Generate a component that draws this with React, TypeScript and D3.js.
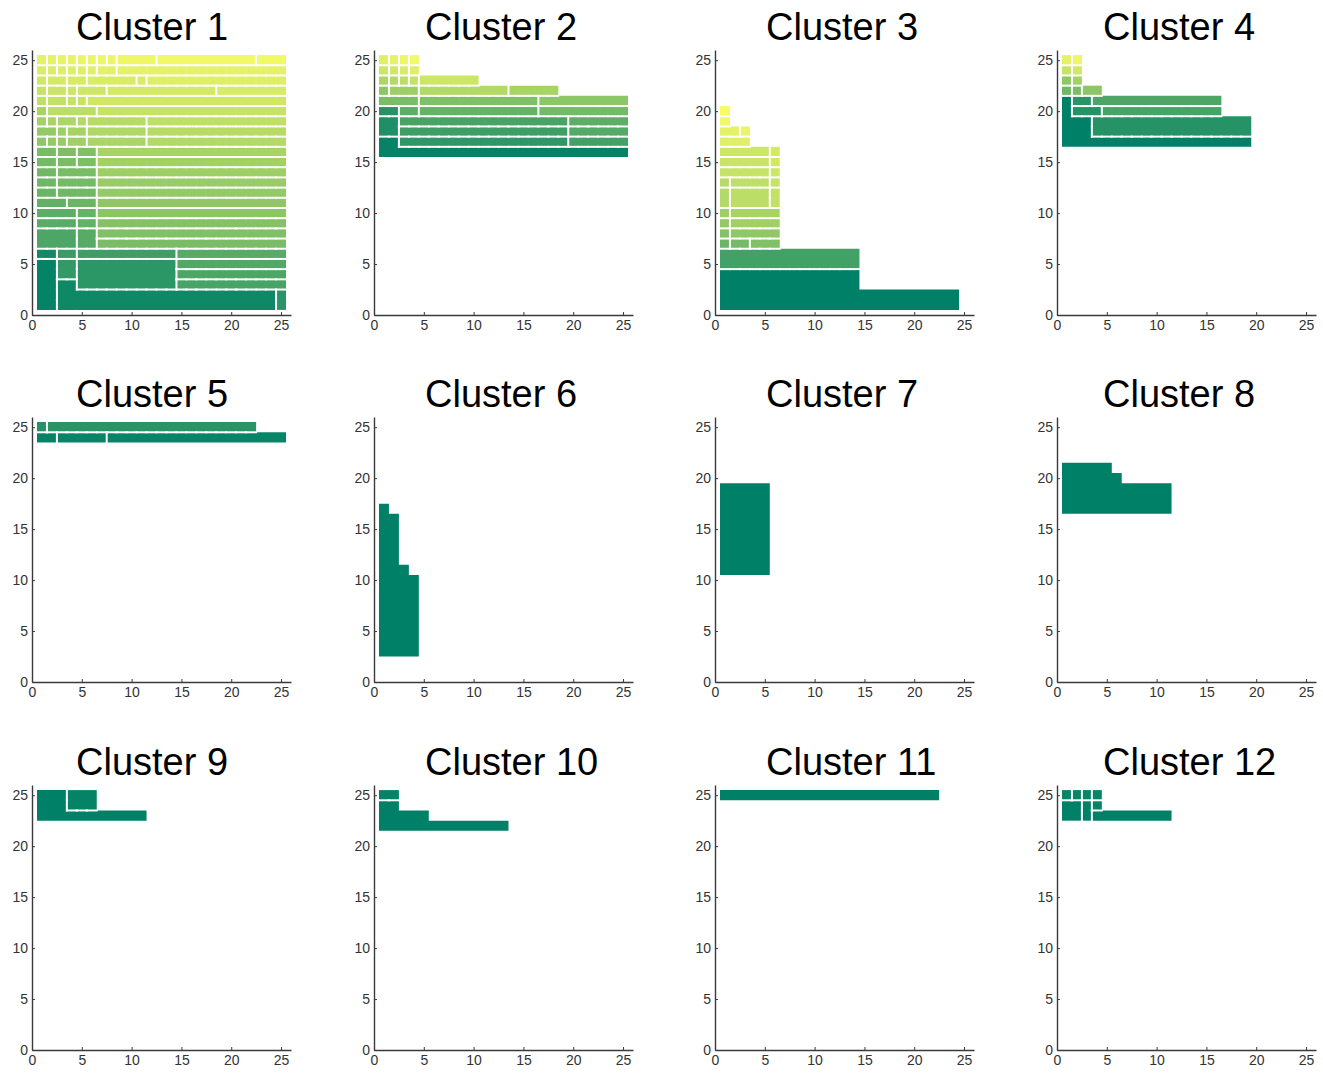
import React, { useEffect, useRef } from "react";
import * as d3 from "d3";

type Rect = [number, number, number, number]; // x0, x1, y0, y1 (inclusive cell indices)
type Region = { v: number; rects: Rect[] };
const reg = (v: number, ...rects: Rect[]): Region => ({ v, rects });

const titles = [
  "Cluster 1", "Cluster 2", "Cluster 3", "Cluster 4",
  "Cluster 5", "Cluster 6", "Cluster 7", "Cluster 8",
  "Cluster 9", "Cluster 10", "Cluster 11", "Cluster 12",
];
const xTicks = [0, 5, 10, 15, 20, 25];
const yTicks = [0, 5, 10, 15, 20, 25];

const cluster1: Region[] = [
  reg(0.9, [1, 1, 25, 25]), reg(0.9, [2, 2, 25, 25]), reg(0.91, [3, 3, 25, 25]), reg(0.91, [4, 4, 25, 25]),
  reg(0.92, [5, 5, 25, 25]), reg(0.92, [6, 6, 25, 25]), reg(0.93, [7, 7, 25, 25]), reg(0.93, [8, 8, 25, 25]),
  reg(0.94, [9, 12, 25, 25]), reg(0.95, [13, 22, 25, 25]), reg(0.95, [23, 25, 25, 25]),
  reg(0.86, [1, 1, 24, 24]), reg(0.86, [2, 2, 24, 24]), reg(0.87, [3, 3, 24, 24]), reg(0.87, [4, 4, 24, 24]),
  reg(0.88, [5, 5, 24, 24]), reg(0.88, [6, 6, 24, 24]), reg(0.89, [7, 8, 24, 24]), reg(0.9, [9, 25, 24, 24]),
  reg(0.82, [1, 1, 23, 23]), reg(0.83, [2, 3, 23, 23]), reg(0.84, [4, 5, 23, 23]), reg(0.85, [6, 10, 23, 23]),
  reg(0.85, [11, 11, 23, 23]), reg(0.87, [12, 25, 23, 23]),
  reg(0.78, [1, 1, 22, 22]), reg(0.79, [2, 3, 22, 22]), reg(0.8, [4, 4, 22, 22]), reg(0.81, [5, 7, 22, 22]),
  reg(0.83, [8, 18, 22, 22]), reg(0.84, [19, 25, 22, 22]),
  reg(0.75, [1, 1, 21, 21]), reg(0.76, [2, 3, 21, 21]), reg(0.77, [4, 4, 21, 21]), reg(0.78, [5, 5, 21, 21]),
  reg(0.81, [6, 25, 21, 21]),
  reg(0.66, [1, 1, 20, 20]), reg(0.74, [2, 6, 20, 20]), reg(0.78, [7, 25, 20, 20]),
  reg(0.64, [1, 1, 19, 19]), reg(0.66, [2, 2, 19, 19]), reg(0.68, [3, 4, 19, 19]), reg(0.7, [5, 5, 19, 19]),
  reg(0.72, [6, 11, 19, 19]), reg(0.75, [12, 25, 19, 19]),
  reg(0.58, [1, 2, 18, 18]), reg(0.62, [3, 3, 18, 18]), reg(0.65, [4, 5, 18, 18]), reg(0.69, [6, 11, 18, 18]),
  reg(0.72, [12, 25, 18, 18]),
  reg(0.56, [1, 1, 17, 17]), reg(0.58, [2, 2, 17, 17]), reg(0.6, [3, 3, 17, 17]), reg(0.63, [4, 5, 17, 17]),
  reg(0.67, [6, 11, 17, 17]), reg(0.7, [12, 25, 17, 17]),
  reg(0.47, [1, 2, 16, 16]), reg(0.49, [3, 4, 16, 16]), reg(0.5, [5, 6, 16, 16]), reg(0.66, [7, 25, 16, 16]),
  reg(0.46, [1, 2, 15, 15]), reg(0.48, [3, 4, 15, 15]), reg(0.49, [5, 6, 15, 15]), reg(0.64, [7, 25, 15, 15]),
  reg(0.44, [1, 2, 14, 14]), reg(0.47, [3, 6, 14, 14]), reg(0.62, [7, 25, 14, 14]),
  reg(0.43, [1, 2, 13, 13]), reg(0.46, [3, 6, 13, 13]), reg(0.6, [7, 25, 13, 13]),
  reg(0.41, [1, 2, 12, 12]), reg(0.44, [3, 6, 12, 12]), reg(0.58, [7, 25, 12, 12]),
  reg(0.38, [1, 3, 11, 11]), reg(0.42, [4, 6, 11, 11]), reg(0.56, [7, 25, 11, 11]),
  reg(0.36, [1, 4, 10, 10]), reg(0.4, [5, 6, 10, 10]), reg(0.54, [7, 25, 10, 10]),
  reg(0.35, [1, 4, 9, 9]), reg(0.39, [5, 6, 9, 9]), reg(0.52, [7, 25, 9, 9]),
  reg(0.3, [1, 4, 7, 8]), reg(0.34, [5, 6, 7, 8]), reg(0.5, [7, 25, 8, 8]), reg(0.48, [7, 25, 7, 7]),
  reg(0.07, [1, 2, 6, 6]), reg(0.22, [3, 4, 6, 6]), reg(0.24, [5, 14, 6, 6]), reg(0.34, [15, 25, 6, 6]),
  reg(0.2, [3, 4, 4, 5]), reg(0.17, [5, 14, 3, 5]), reg(0.32, [15, 25, 5, 5]), reg(0.3, [15, 25, 4, 4]),
  reg(0.28, [15, 25, 3, 3]),
  reg(0.02, [1, 2, 1, 5]), reg(0.06, [3, 4, 1, 3], [5, 24, 1, 2]), reg(0.16, [25, 25, 1, 2]),
];

const cluster2: Region[] = [
  reg(0.88, [1, 1, 25, 25]), reg(0.9, [2, 2, 25, 25]), reg(0.93, [3, 3, 25, 25]), reg(0.95, [4, 4, 25, 25]),
  reg(0.8, [1, 1, 24, 24]), reg(0.82, [2, 2, 24, 24]), reg(0.85, [3, 3, 24, 24]), reg(0.88, [4, 4, 24, 24]),
  reg(0.68, [1, 1, 23, 23]), reg(0.7, [2, 2, 23, 23]), reg(0.74, [3, 3, 23, 23]), reg(0.77, [4, 4, 23, 23]),
  reg(0.8, [5, 10, 23, 23]),
  reg(0.55, [1, 1, 22, 22]), reg(0.62, [2, 4, 22, 22]), reg(0.7, [5, 13, 22, 22]), reg(0.66, [14, 18, 22, 22]),
  reg(0.48, [1, 4, 21, 21]), reg(0.5, [5, 16, 21, 21]), reg(0.55, [17, 25, 21, 21]),
  reg(0.15, [1, 2, 20, 20]), reg(0.36, [3, 4, 20, 20]), reg(0.4, [5, 16, 20, 20]), reg(0.46, [17, 25, 20, 20]),
  reg(0.12, [1, 2, 18, 19]),
  reg(0.28, [3, 19, 19, 19]), reg(0.36, [20, 25, 19, 19]),
  reg(0.24, [3, 19, 18, 18]), reg(0.33, [20, 25, 18, 18]),
  reg(0.18, [3, 19, 17, 17]), reg(0.26, [20, 25, 17, 17]),
  reg(0.02, [1, 2, 17, 17], [1, 25, 16, 16]),
];

const cluster3: Region[] = [
  reg(0.97, [1, 1, 20, 20]), reg(0.95, [1, 1, 19, 19]), reg(0.9, [1, 2, 18, 18]), reg(0.92, [3, 3, 18, 18]),
  reg(0.88, [1, 3, 17, 17]),
  reg(0.8, [1, 5, 16, 16]), reg(0.83, [6, 6, 16, 16]),
  reg(0.79, [1, 5, 15, 15]), reg(0.82, [6, 6, 15, 15]),
  reg(0.78, [1, 5, 14, 14]), reg(0.8, [6, 6, 14, 14]),
  reg(0.72, [1, 1, 13, 13]), reg(0.75, [2, 5, 13, 13]), reg(0.78, [6, 6, 13, 13]),
  reg(0.7, [1, 1, 11, 12]), reg(0.74, [2, 5, 11, 12]), reg(0.76, [6, 6, 11, 12]),
  reg(0.62, [1, 1, 10, 10]), reg(0.66, [2, 6, 10, 10]),
  reg(0.58, [1, 1, 9, 9]), reg(0.63, [2, 6, 9, 9]),
  reg(0.52, [1, 1, 8, 8]), reg(0.57, [2, 6, 8, 8]),
  reg(0.42, [1, 1, 7, 7]), reg(0.46, [2, 3, 7, 7]), reg(0.5, [4, 6, 7, 7]),
  reg(0.26, [1, 14, 5, 6]),
  reg(0, [1, 14, 1, 4], [15, 24, 1, 2]),
];

const cluster4: Region[] = [
  reg(0.9, [1, 1, 25, 25]), reg(0.93, [2, 2, 25, 25]),
  reg(0.78, [1, 1, 24, 24]), reg(0.82, [2, 2, 24, 24]),
  reg(0.56, [1, 1, 23, 23]), reg(0.64, [2, 2, 23, 23]),
  reg(0.44, [1, 1, 22, 22]), reg(0.48, [2, 2, 22, 22]), reg(0.55, [3, 4, 22, 22]),
  reg(0.16, [2, 3, 21, 21]), reg(0.3, [4, 16, 21, 21]),
  reg(0.15, [2, 4, 20, 20]), reg(0.28, [5, 16, 20, 20]),
  reg(0.15, [4, 19, 18, 19]),
  reg(0, [1, 1, 17, 21], [2, 3, 17, 19], [4, 19, 17, 17]),
];

const cluster5: Region[] = [
  reg(0.14, [1, 1, 25, 25]), reg(0.16, [2, 22, 25, 25]),
  reg(0.02, [1, 2, 24, 24]), reg(0.03, [3, 7, 24, 24]), reg(0.03, [8, 25, 24, 24]),
];
const cluster6: Region[] = [reg(0, [1, 1, 3, 17], [2, 2, 3, 16], [3, 3, 3, 11], [4, 4, 3, 10])];
const cluster7: Region[] = [reg(0, [1, 5, 11, 19])];
const cluster8: Region[] = [reg(0, [1, 5, 17, 21], [6, 6, 17, 20], [7, 11, 17, 19])];
const cluster9: Region[] = [reg(0, [1, 3, 23, 25], [4, 11, 23, 23]), reg(0.02, [4, 6, 24, 25])];
const cluster10: Region[] = [reg(0.02, [1, 2, 25, 25]), reg(0, [1, 2, 22, 24], [3, 5, 22, 23], [6, 13, 22, 22])];
const cluster11: Region[] = [reg(0, [1, 22, 25, 25])];
const cluster12: Region[] = [
  reg(0.03, [1, 1, 25, 25]), reg(0.03, [2, 2, 25, 25]), reg(0.03, [3, 3, 25, 25]), reg(0.03, [4, 4, 25, 25]),
  reg(0, [1, 2, 23, 24]), reg(0, [3, 3, 23, 24]), reg(0.02, [4, 4, 24, 24]), reg(0, [4, 11, 23, 23]),
];

const clusters = [
  cluster1, cluster2, cluster3, cluster4, cluster5, cluster6,
  cluster7, cluster8, cluster9, cluster10, cluster11, cluster12,
];

// MATLAB "summer" colormap
const summer = d3.interpolateRgb("#008066", "#ffff66");

const colX = [32, 374, 715, 1057];
const rowY = [315, 682, 1050];
const titleOffset = [44, 51, 51, 46];

const App = () => {
  const ref = useRef<SVGSVGElement>(null);

  useEffect(() => {
    const svg = d3.select(ref.current);
    svg.selectAll("*").remove();

    clusters.forEach((regions, i) => {
      const col = i % 4;
      const ox = colX[col];
      const oy = rowY[Math.floor(i / 4)];
      const x = d3.scaleLinear().domain([0, 26]).range([ox, ox + 259]);
      const y = d3.scaleLinear().domain([0, 26]).range([oy, oy - 265]);
      const g = svg.append("g");

      // cell -> region id grid
      const grid: number[][] = d3.range(27).map(() => d3.range(27).map(() => 0));
      regions.forEach((r, k) => {
        r.rects.forEach(([x0, x1, y0, y1]) => {
          for (let cx = x0; cx <= x1; cx++) for (let cy = y0; cy <= y1; cy++) grid[cx][cy] = k + 1;
        });
      });

      // each region as one path so its parts have no seams
      g.selectAll(null)
        .data(regions)
        .enter()
        .append("path")
        .attr("d", (r) => {
          const p = d3.path();
          r.rects.forEach(([x0, x1, y0, y1]) => {
            p.rect(x(x0 - 0.5), y(y1 + 0.5), x(x1 + 0.5) - x(x0 - 0.5), y(y0 - 0.5) - y(y1 + 0.5));
          });
          return p.toString();
        })
        .attr("fill", (r) => summer(r.v));

      // white borders between different regions
      const segs: [number, number, number, number][] = [];
      for (let cx = 1; cx <= 25; cx++) {
        for (let cy = 1; cy <= 25; cy++) {
          const id = grid[cx][cy];
          if (!id) continue;
          if (cx < 25 && grid[cx + 1][cy] && grid[cx + 1][cy] !== id)
            segs.push([cx + 0.5, cy - 0.5, cx + 0.5, cy + 0.5]);
          if (cy < 25 && grid[cx][cy + 1] && grid[cx][cy + 1] !== id)
            segs.push([cx - 0.5, cy + 0.5, cx + 0.5, cy + 0.5]);
        }
      }
      g.selectAll(null)
        .data(segs)
        .enter()
        .append("line")
        .attr("x1", (d) => x(d[0]))
        .attr("y1", (d) => y(d[1]))
        .attr("x2", (d) => x(d[2]))
        .attr("y2", (d) => y(d[3]))
        .attr("stroke", "#ffffff")
        .attr("stroke-width", 2)
        .attr("stroke-linecap", "square");

      const xa = g.append("g")
        .attr("transform", `translate(0,${oy})`)
        .call(d3.axisBottom(x).tickValues(xTicks).tickSizeInner(-3).tickSizeOuter(0).tickPadding(5));
      const ya = g.append("g")
        .attr("transform", `translate(${ox},0)`)
        .call(d3.axisLeft(y).tickValues(yTicks).tickSizeInner(-3).tickSizeOuter(0).tickPadding(4));
      [xa, ya].forEach((a) => {
        a.select(".domain").attr("stroke", "#3a3a3a").attr("stroke-width", 1.4);
        a.selectAll(".tick line").attr("stroke", "#3a3a3a");
        a.selectAll(".tick text")
          .attr("fill", "#333")
          .style("font-size", "14px")
          .style("font-family", "'Liberation Sans', Arial, sans-serif");
      });

      g.append("text")
        .attr("x", ox + titleOffset[col])
        .attr("y", oy - 275)
        .attr("fill", "#000")
        .style("font-size", "38px")
        .style("font-family", "'Liberation Sans', Arial, sans-serif")
        .text(titles[i]);
    });
  }, []);

  return (
    <svg
      ref={ref}
      width={1323}
      height={1073}
      style={{ position: "absolute", left: 0, top: 0, background: "#fff" }}
    />
  );
};

export default App;
